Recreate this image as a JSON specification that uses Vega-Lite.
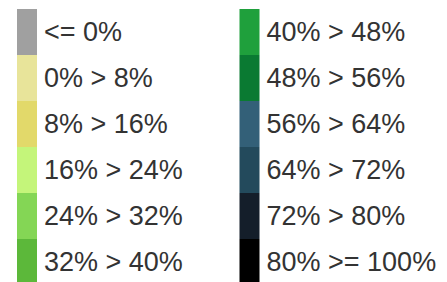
{
  "$schema": "https://vega.github.io/schema/vega-lite/v6.json",
  "width": 447,
  "height": 282,
  "autosize": "none",
  "padding": 0,
  "background": "white",
  "config": {"view": {"stroke": null}},
  "data": {
    "values": [
      {"label": "<= 0%", "col": "L", "row": 0},
      {"label": "0% > 8%", "col": "L", "row": 1},
      {"label": "8% > 16%", "col": "L", "row": 2},
      {"label": "16% > 24%", "col": "L", "row": 3},
      {"label": "24% > 32%", "col": "L", "row": 4},
      {"label": "32% > 40%", "col": "L", "row": 5},
      {"label": "40% > 48%", "col": "R", "row": 0},
      {"label": "48% > 56%", "col": "R", "row": 1},
      {"label": "56% > 64%", "col": "R", "row": 2},
      {"label": "64% > 72%", "col": "R", "row": 3},
      {"label": "72% > 80%", "col": "R", "row": 4},
      {"label": "80% >= 100%", "col": "R", "row": 5}
    ]
  },
  "encoding": {
    "x": {"field": "col", "type": "nominal", "scale": {"type": "point", "domain": ["L", "R"], "range": [27, 249.5], "padding": 0}, "axis": null},
    "y": {"field": "row", "type": "ordinal", "scale": {"type": "band", "domain": [0, 1, 2, 3, 4, 5], "range": [9, 285], "paddingInner": 0, "paddingOuter": 0}, "axis": null}
  },
  "layer": [
    {
      "mark": {"type": "bar", "width": 20},
      "encoding": {
        "color": {
          "field": "label",
          "type": "nominal",
          "legend": null,
          "scale": {
            "domain": ["<= 0%", "0% > 8%", "8% > 16%", "16% > 24%", "24% > 32%", "32% > 40%", "40% > 48%", "48% > 56%", "56% > 64%", "64% > 72%", "72% > 80%", "80% >= 100%"],
            "range": ["#a0a0a0", "#e8e49a", "#e2d96a", "#c4f57a", "#84d655", "#5cb83a", "#1fa03c", "#0a7a32", "#336078", "#234a5c", "#141e2a", "#000000"]
          }
        }
      }
    },
    {
      "mark": {"type": "text", "align": "left", "baseline": "middle", "dx": 17, "dy": 1, "font": "Liberation Sans", "fontSize": 27, "color": "#333333"},
      "encoding": {"text": {"field": "label"}}
    }
  ]
}
